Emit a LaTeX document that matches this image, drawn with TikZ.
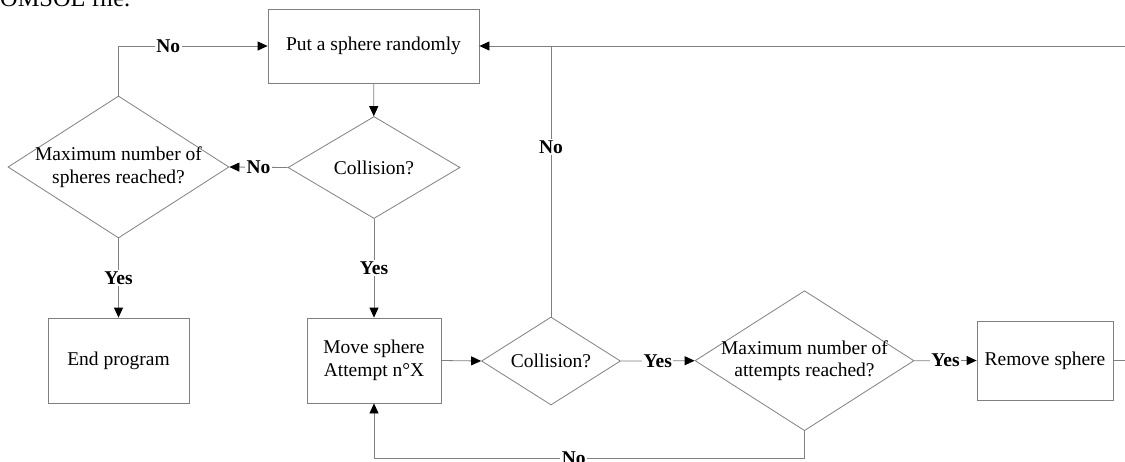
\documentclass[tikz,border=0pt]{standalone}
\usepackage{fontspec}
\setmainfont{Liberation Serif}
\usetikzlibrary{shapes.geometric,arrows.meta}
\definecolor{linegray}{RGB}{128,128,128}
\begin{document}
\begin{tikzpicture}[x=1pt,y=-1pt,
 line/.style={draw=linegray, line width=0.8pt},
 arr/.style={line, -{Triangle[length=10pt,width=9pt,color=black]}},
 box/.style={rectangle, draw=linegray, line width=0.8pt, inner sep=0pt, font=\fontsize{19.5}{22.5}\selectfont, align=center},
 dia/.style={diamond, draw=linegray, line width=0.8pt, inner sep=0pt},
 txt/.style={font=\fontsize{19.5}{22.5}\selectfont, align=center, inner sep=0pt},
 lbl/.style={font=\fontsize{19.5}{22.5}\selectfont\bfseries, fill=white, inner sep=1.5pt}]
\useasboundingbox (0,0) rectangle (1125,461);
\clip (0,0) rectangle (1125,461);

% cut-off page text
\node[anchor=base west, inner sep=0pt, font=\fontsize{24.4}{28}\selectfont] (pagetext) at (-16.3,6.5) {COMSOL file.};

% nodes
\node[box, minimum width=211pt, minimum height=74pt] (put) at (373.5,46) {Put a sphere randomly};
\node[dia, minimum width=172pt, minimum height=102pt] (c1) at (374,167.5) {};
\node[txt] (c1t) at (c1.center) {Collision?};
\node[dia, minimum width=221pt, minimum height=142pt] (ms) at (118.5,167) {};
\node[txt] (mst) at (ms.center) {Maximum number of\\spheres reached?};
\node[box, minimum width=141pt, minimum height=85pt] (end) at (118.5,360.5) {End program};
\node[box, minimum width=134pt, minimum height=85pt] (move) at (374,360.5) {Move sphere\\Attempt n°X};
\node[dia, minimum width=139pt, minimum height=88pt] (c2) at (551,361) {};
\node[txt] (c2t) at (c2.center) {Collision?};
\node[dia, minimum width=219pt, minimum height=140pt] (ma) at (804.5,360.7) {};
\node[txt] (mat) at (ma.center) {Maximum number of\\attempts reached?};
\node[box, minimum width=136pt, minimum height=79pt] (rm) at (1045,360.5) {Remove sphere};

\coordinate (loopr) at (1140,360.5);
\coordinate (bl) at (804.5,458);

% connectors
\draw[arr] (put) -- (c1);
\draw[arr] (c1.west) -- node[lbl] {No} (ms.east);
\draw[arr] (ms.north) |- node[lbl, pos=0.667] {No} (put.west);
\draw[arr] (ms.south) -- node[lbl] {Yes} (end.north);
\draw[arr] (c1.south) -- node[lbl] {Yes} (move.north);
\draw[arr] (move.east) -- (c2.west);
\draw[arr] (c2.east) -- node[lbl] {Yes} (ma.west);
\draw[arr] (ma.east) -- node[lbl] {Yes} (rm.west);
\draw[arr] (rm.east) -- (loopr) |- (put.east);
\draw[line] (c2.north) -- node[lbl, pos=0.627] {No} (c2.north |- put.east);
\draw[arr] (ma.south) -- (bl) -| node[lbl, pos=0.268] {No} (move.south);
\end{tikzpicture}
\end{document}
